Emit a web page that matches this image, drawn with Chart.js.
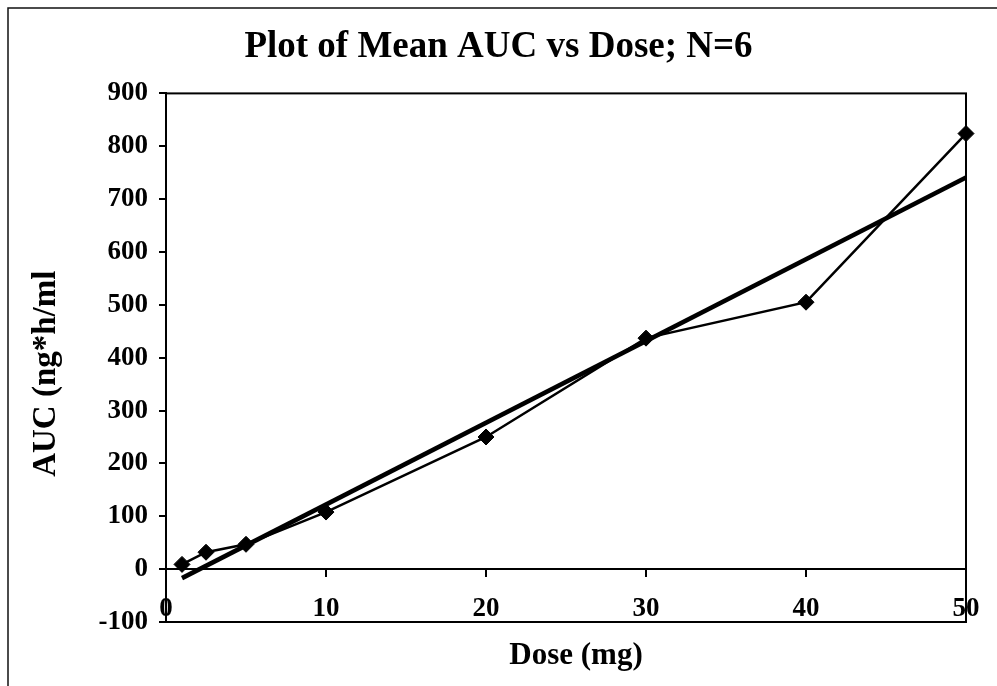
<!DOCTYPE html>
<html>
<head>
<meta charset="utf-8">
<script src="https://cdn.jsdelivr.net/npm/chart.js@4/dist/chart.umd.min.js"></script>
<style>
html,body{margin:0;padding:0;background:#fff;}
#wrap{width:997px;height:686px;position:relative;}
canvas{display:block;}
</style>
</head>
<body>
<div id="wrap"><canvas id="c" width="997" height="686"></canvas></div>
<script>
// ---- data ----
const doses = [1, 2.5, 5, 10, 20, 30, 40, 50];
const meanAUC = [9, 32, 47, 108, 250, 437, 505, 824];
const trendDoses = [1, 50];
const trendAUC = [-17, 741];
const xTicks = [0, 10, 20, 30, 40, 50];
const yTicks = [-100, 0, 100, 200, 300, 400, 500, 600, 700, 800, 900];
const chartTitle = 'Plot of Mean AUC vs Dose; N=6';
const xTitle = 'Dose (mg)';
const yTitle = 'AUC (ng*h/ml';

const SERIF = "'Liberation Serif', 'Times New Roman', serif";

const framePlugin = {
  id: 'frame',
  beforeDraw(chart) {
    const ctx = chart.ctx;
    ctx.save();
    ctx.fillStyle = '#fff';
    ctx.fillRect(0, 0, chart.width, chart.height);
    ctx.strokeStyle = '#111';
    ctx.lineWidth = 1.5;
    ctx.beginPath();
    ctx.moveTo(8, chart.height);
    ctx.lineTo(8, 8);
    ctx.lineTo(chart.width, 8);
    ctx.stroke();
    ctx.restore();
  },
  beforeDatasetsDraw(chart) {
    const {ctx, chartArea: a} = chart;
    ctx.save();
    ctx.strokeStyle = '#000';
    ctx.lineWidth = 2;
    ctx.strokeRect(a.left, a.top, a.right - a.left, a.bottom - a.top);
    ctx.restore();
  },
  afterDraw(chart) {
    // axis titles, placed as in the reference
    const {ctx, chartArea: a} = chart;
    ctx.save();
    ctx.fillStyle = '#000';
    ctx.textAlign = 'center';
    ctx.textBaseline = 'middle';
    ctx.font = 'bold 31px ' + SERIF;
    ctx.fillText(xTitle, (a.left + a.right) / 2 + 10, a.bottom + 34);
    ctx.font = 'bold 33px ' + SERIF;
    ctx.translate(46, (a.top + a.bottom) / 2 + 16);
    ctx.rotate(-Math.PI / 2);
    ctx.fillText(yTitle, 0, 0);
    ctx.restore();
  }
};

new Chart(document.getElementById('c'), {
  type: 'scatter',
  data: {
    datasets: [
      {
        label: 'Mean AUC',
        data: doses.map((d, i) => ({x: d, y: meanAUC[i]})),
        showLine: true,
        borderColor: '#000',
        backgroundColor: '#000',
        borderWidth: 2.5,
        pointStyle: 'rectRot',
        pointRadius: 8,
        pointBorderWidth: 1,
        clip: false,
        order: 1
      },
      {
        label: 'Linear trend',
        data: trendDoses.map((d, i) => ({x: d, y: trendAUC[i]})),
        showLine: true,
        borderColor: '#000',
        borderWidth: 4.5,
        pointRadius: 0,
        clip: false,
        order: 2
      }
    ]
  },
  options: {
    responsive: false,
    animation: false,
    devicePixelRatio: 1,
    layout: {padding: 0},
    plugins: {
      legend: {display: false},
      tooltip: {enabled: false},
      title: {
        display: true,
        text: chartTitle,
        color: '#000',
        font: {family: SERIF, size: 37, weight: 'bold'},
        padding: {top: 25, bottom: 24}
      }
    },
    scales: {
      x: {
        type: 'linear',
        min: 0, max: 50,
        position: {y: 0},
        afterBuildTicks: s => { s.ticks = xTicks.map(v => ({value: v})); },
        ticks: {color: '#000', font: {family: SERIF, size: 27, weight: 'bold'}, padding: 17, maxRotation: 0},
        grid: {drawOnChartArea: false, drawTicks: true, tickLength: 7, color: '#000', lineWidth: 2},
        border: {display: true, color: '#000', width: 2}
      },
      x2: {
        type: 'linear',
        axis: 'x',
        min: 0, max: 50,
        position: 'bottom',
        ticks: {display: false},
        grid: {display: false, drawTicks: false},
        border: {display: false},
        afterFit: s => { s.height = 64; }
      },
      y: {
        type: 'linear',
        min: -100, max: 900,
        position: 'left',
        afterBuildTicks: s => { s.ticks = yTicks.map(v => ({value: v})); },
        ticks: {color: '#000', font: {family: SERIF, size: 27, weight: 'bold'}, padding: 11},
        grid: {drawOnChartArea: false, drawTicks: true, tickLength: 7, color: '#000', lineWidth: 2},
        border: {display: true, color: '#000', width: 2},
        afterFit: s => { s.width = 166; }
      },
      y2: {
        type: 'linear',
        axis: 'y',
        position: 'right',
        min: -100, max: 900,
        ticks: {display: false},
        grid: {display: false, drawTicks: false},
        border: {display: false},
        afterFit: s => { s.width = 31; }
      }
    }
  },
  plugins: [framePlugin]
});
</script>
</body>
</html>
